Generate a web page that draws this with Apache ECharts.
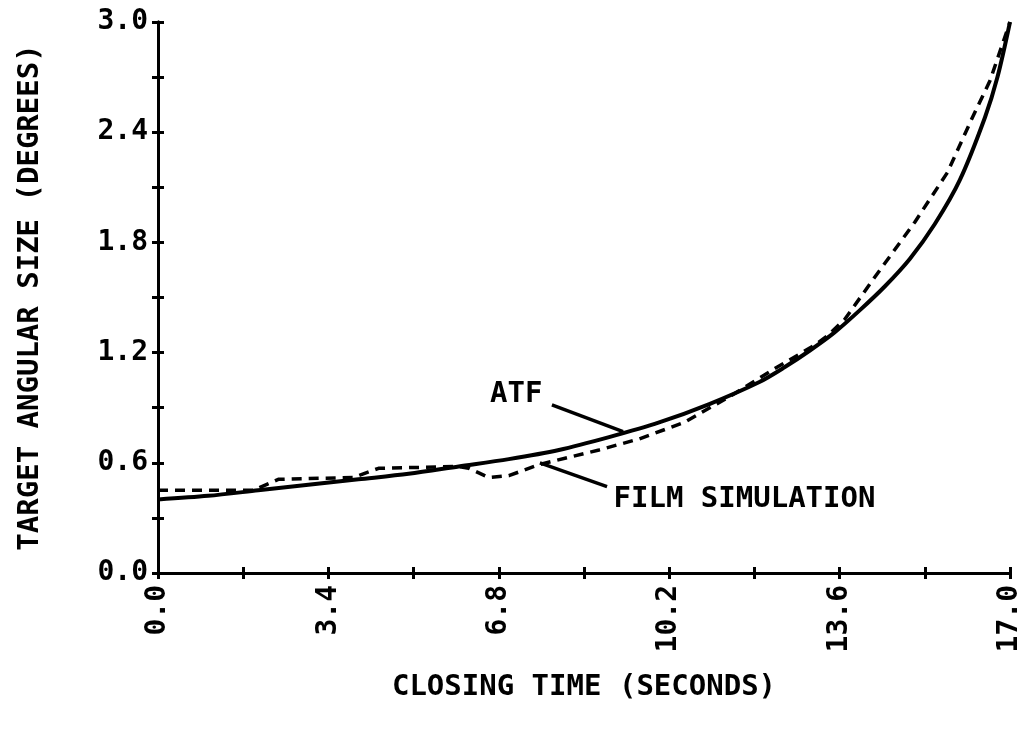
<!DOCTYPE html>
<html>
<head>
<meta charset="utf-8">
<script src="https://cdn.jsdelivr.net/npm/echarts@6/dist/echarts.min.js"></script>
<style>html,body{margin:0;padding:0;background:#fff}#c{width:1025px;height:729px}</style>
</head>
<body>
<div id="c"></div>
<script>
// Closing time (s) and target angular size (deg)
var atfTime = [0, 1, 2, 3, 4, 5, 6, 7, 8, 9, 10, 11, 12, 12.5, 13, 13.5, 14, 14.5, 15, 15.5, 16, 16.5, 16.75, 17];
var atfSize = [0.40, 0.42, 0.45, 0.48, 0.51, 0.54, 0.58, 0.62, 0.67, 0.74, 0.82, 0.92, 1.04, 1.12, 1.21, 1.31, 1.43, 1.56, 1.71, 1.90, 2.14, 2.48, 2.70, 3.00];
var filmTime = [0, 1.9, 2.4, 3.9, 4.4, 6.0, 6.2, 6.6, 7.0, 7.6, 8.8, 9.6, 10.5, 11.4, 12.35, 13.1, 13.35, 13.7, 14.3, 15.1, 15.75, 16.25, 16.6, 17];
var filmSize = [0.45, 0.45, 0.51, 0.52, 0.57, 0.58, 0.57, 0.52, 0.53, 0.59, 0.67, 0.73, 0.82, 0.96, 1.12, 1.24, 1.29, 1.38, 1.61, 1.91, 2.18, 2.48, 2.68, 3.00];
var xTicks = ['0.0', '3.4', '6.8', '10.2', '13.6', '17.0'];
var yTicks = ['0.0', '0.6', '1.2', '1.8', '2.4', '3.0'];
var atfLabel = {text: 'ATF', at: [7.68, 0.97], from: [7.86, 0.915], to: [9.28, 0.77]};
var filmLabel = {text: 'FILM SIMULATION', at: [9.08, 0.40], from: [8.96, 0.47], to: [7.62, 0.60]};

function zip(a, b) { return a.map(function (v, i) { return [v, b[i]]; }); }
var FONT = '"DejaVu Sans Mono", monospace';
function xFmt(v) { var s = v.toFixed(1); return xTicks.indexOf(s) >= 0 ? s : ''; }
function yFmt(v) { var s = v.toFixed(1); return yTicks.indexOf(s) >= 0 ? s : ''; }

var baseX = {type: 'value', min: 0, max: 17, interval: 1.7, splitLine: {show: false},
  axisLine: {onZero: false, lineStyle: {color: '#000', width: 3}}};
var baseY = {type: 'value', min: 0, max: 3, interval: 0.3, splitLine: {show: false},
  axisLine: {onZero: false, lineStyle: {color: '#000', width: 3}}};

var chart = echarts.init(document.getElementById('c'));
chart.setOption({
  backgroundColor: '#fff',
  animation: false,
  grid: {left: 158, right: 15, top: 22, bottom: 156, outerBoundsMode: 'none', containLabel: false},
  xAxis: [
    Object.assign({}, baseX, {
      name: 'CLOSING TIME (SECONDS)', nameLocation: 'middle', nameGap: 100,
      nameTextStyle: {fontFamily: FONT, fontWeight: 'bold', fontSize: 29, color: '#000'},
      axisTick: {show: true, inside: false, length: 6, lineStyle: {color: '#000', width: 3}},
      axisLabel: {rotate: 90, margin: 12, formatter: xFmt, fontFamily: FONT, fontWeight: 'bold', fontSize: 28, color: '#000', showMinLabel: true, showMaxLabel: true}
    }),
    Object.assign({}, baseX, {
      position: 'bottom',
      axisTick: {show: true, inside: true, length: 6, lineStyle: {color: '#000', width: 3}},
      axisLabel: {show: false}
    })
  ],
  yAxis: [
    Object.assign({}, baseY, {
      name: 'TARGET ANGULAR SIZE (DEGREES)', nameLocation: 'middle', nameGap: 113,
      nameTextStyle: {fontFamily: FONT, fontWeight: 'bold', fontSize: 29, color: '#000'},
      axisTick: {show: true, inside: false, length: 6, lineStyle: {color: '#000', width: 3}},
      axisLabel: {margin: 10, formatter: yFmt, fontFamily: FONT, fontWeight: 'bold', fontSize: 28, color: '#000', showMinLabel: true, showMaxLabel: true}
    }),
    Object.assign({}, baseY, {
      position: 'left',
      axisTick: {show: true, inside: true, length: 6, lineStyle: {color: '#000', width: 3}},
      axisLabel: {show: false}
    })
  ],
  series: [
    {
      name: 'ATF', type: 'line', xAxisIndex: 0, yAxisIndex: 0, smooth: 0.3, showSymbol: false,
      data: zip(atfTime, atfSize),
      lineStyle: {color: '#000', width: 4},
      markLine: {
        silent: true, symbol: ['none', 'none'], label: {show: false},
        lineStyle: {color: '#000', width: 3.5, type: 'solid'},
        data: [
          [{coord: atfLabel.from}, {coord: atfLabel.to}],
          [{coord: filmLabel.from}, {coord: filmLabel.to}]
        ]
      },
      markPoint: {
        silent: true, symbol: 'circle', symbolSize: 1, itemStyle: {color: 'rgba(0,0,0,0)'},
        data: [
          {coord: atfLabel.at, label: {show: true, formatter: atfLabel.text, position: 'left', distance: 0, fontFamily: FONT, fontWeight: 'bold', fontSize: 29, color: '#000'}},
          {coord: filmLabel.at, label: {show: true, formatter: filmLabel.text, position: 'right', distance: 0, fontFamily: FONT, fontWeight: 'bold', fontSize: 29, color: '#000'}}
        ]
      }
    },
    {
      name: 'FILM SIMULATION', type: 'line', xAxisIndex: 0, yAxisIndex: 0, smooth: false, showSymbol: false,
      data: zip(filmTime, filmSize),
      lineStyle: {color: '#000', width: 3.5, type: [10, 7]}
    }
  ]
});
</script>
</body>
</html>
